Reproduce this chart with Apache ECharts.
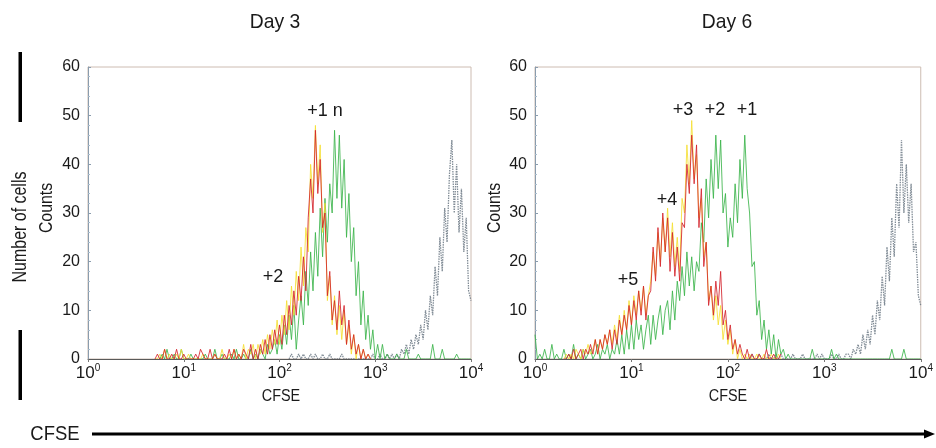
<!DOCTYPE html>
<html><head><meta charset="utf-8">
<script src="https://cdn.jsdelivr.net/npm/echarts@6/dist/echarts.min.js"></script>
<style>html,body{margin:0;padding:0;background:#fff}#c{width:936px;height:448px}</style>
</head><body><div id="c"></div>
<script>
const FONT = "'Liberation Sans',Arial,sans-serif";
// histogram bin width in decades (log10 units)
const STEP = 0.025;
const panelTitles = ['Day 3', 'Day 6'];
const yMin = 0, yMax = 60, yInterval = 10;
const xMin = 1, xMax = 10000;

// ---------- Day 3 ----------
const d3YellowStart = 0.7;
const d3YellowCounts = [
  0,0,1,0,2,0,1,0,0,1,0,2,0,0,1,0,0,0,0,0,1,0,0,0,0,1,0,0,2,0,0,1,
  0,2,0,1,0,3,0,2,1,3, 0,3,1,4,1,5,2,6,3,8, 3,9,5,12,6,15,9,18,12,23,
  15,27,22,40,33,48,36,44,26,32, 12,17,7,13,5,11,4,10,3,7, 1,5,0,3,0,2,0,1,0
];
const d3RedStart = 0.7;
const d3RedCounts = [
  0,1,0,0,2,0,0,1,0,2,0,0,1,0,0,0,0,1,0,2,1,0,0,2,0,1,0,0,0,1,0,2,
  0,2,0,1,0,2,1,0,3,0, 2,0,3,1,4,1,5,2,6,3, 7,3,9,5,11,7,14,9,17,12,
  21,14,29,37,30,47,34,41,27,30, 13,18,8,12,6,14,7,11,3,8, 2,5,1,3,0,2,0,1,0
];
const d3GreenStart = 0.75;
const d3GreenCounts = [
  0,1,0,2,0,0,1,0,0,2,0,0,0,1,0,0,0,0,0,1,0,0,0,2,0,0,1,0,0,0,1,0,2,0,
  0,1,0,0,2,0,1,0,2,1, 0,3,1,2,4,1,5,2,7,3, 9,4,11,2,8,13,7,18,11,22,
  14,26,17,31,21,33,24,36,30,47, 33,46,31,41,25,34,20,27,13,20, 7,14,4,9,2,6,0,3,0,3, 0,1,0,
  0,0,1,0,0,0,2,0,0,0,0,1,0,0,0,0,0,3,0,0,0,2,0,0,0,0,0,1,0,0,0,0,0,0
];
const d3GrayStart = 2.1;
const d3GrayCounts = [
  0,1,0,0,1,0,1,0,0,1, 0,1,0,0,1,0,0,1,0,0, 0,0,1,0,0,0,0,0,0,0, 0,0,0,0,0,1,0,0,1,0, 0,1,0,1,
  0,1,0,2,1,3,1,4,2,5, 3,7,4,10,6,13,9,19,13,25, 18,31,24,38,45,30,40,26,35,22, 29,14,12
];

// ---------- Day 6 ----------
const d6YellowStart = 0.3;
const d6YellowCounts = [
  0,1,0,1,0,2,1,0,2,1, 3,1,2,4,1,4,2,5,3,6, 3,7,4,9,5,10,6,12,7,13,
  9,14,10,15,9,13,16,22,17,26, 20,29,22,31,21,28,19,25,18,33, 30,44,36,49,37,42,29,33,21,24,
  12,15,8,13,7,11,4,8,3,6, 1,4,0,2,0,1,0,1,0,0, 1,0,0,1,0,0,1,0,0,1,0
];
const d6RedStart = 0.3;
const d6RedCounts = [
  0,0,1,0,2,0,1,2,0,2, 1,3,1,4,1,4,2,5,3,6, 2,6,3,8,5,9,6,11,7,12,
  8,14,9,15,8,13,14,23,16,27, 19,30,22,29,18,26,17,23,16,28, 27,40,34,46,36,44,27,35,19,24,
  11,15,9,16,11,18,7,10,4,7, 2,4,1,3,1,0,2,0,1,0, 0,1,0,0,2,0,0,1,0,0,1
];
const d6GreenStart = 0.0;
const d6GreenCounts = [
  5,0,1,0,2,0,0,3,0,1,0,0,2,0,1,0,3,0,1,0,2,0,1,2,0,1,3,0,2,1,3,0,2,1,4,1,5,1,6,2,
  7,2,8,4,7,2,6,9,3,9,4,8,11,5,10,12,6,14,8,16,12,19,13,22,15,21,14,20,18,28,24,37,29,41,33,46,35,45,30,34,
  23,29,25,36,28,41,33,46,35,30,19,20,9,12,4,8,2,6,1,5,0,4,1,2,0,1,0,
  0,0,0,0,0,0,0,0,2,0, 0,0,0,0,0,0,2,0,1,0, 0,0,0,0,0,0,0,0,0,0, 0,0,0,0,0,0,0,0,0,0, 0,2,0,0,0,0,2,0,0,0, 0,0,0,0
];
const d6GrayStart = 2.2;
const d6GrayCounts = [
  0,0,1,0,0,1,0,0,0,1, 0,0,1,0,1,0,0,0,0,1, 0,0,0,1,0,0,0,0,0,1, 0,1,0,0,0,1,0,0,1,0,
  0,1,1,0,2,1,3,1,5,2, 6,3,9,5,12,8,17,11,23,16, 29,21,36,27,45,30,40,28,36,22, 24,13,11
];

const COLORS = { gray: '#6b7884', green: '#3bb44a', yellow: '#f4df33', red: '#d4232b' };

function pts(start, counts) {
  return counts.map((c, i) => [Math.pow(10, start + i * STEP), c]);
}

const panels = [
  { gray: [d3GrayStart, d3GrayCounts], green: [d3GreenStart, d3GreenCounts], yellow: [d3YellowStart, d3YellowCounts], red: [d3RedStart, d3RedCounts] },
  { gray: [d6GrayStart, d6GrayCounts], green: [d6GreenStart, d6GreenCounts], yellow: [d6YellowStart, d6YellowCounts], red: [d6RedStart, d6RedCounts] }
];
const grids = [
  { left: 88, top: 67, width: 383, height: 292 },
  { left: 535, top: 67, width: 386, height: 292 }
];

const series = [];
panels.forEach((p, idx) => {
  ['gray', 'green', 'yellow', 'red'].forEach((k, j) => {
    series.push({
      type: 'line', xAxisIndex: idx, yAxisIndex: idx,
      data: pts(p[k][0], p[k][1]),
      symbol: 'none', showSymbol: false, animation: false,
      lineStyle: k === 'gray'
        ? { color: COLORS[k], width: 1.3, opacity: 0.85, type: [1.5, 1] }
        : { color: COLORS[k], width: 1, opacity: 0.85, type: 'solid' },
      z: 2 + j
    });
  });
});

const txt = (text, x, y, size, extra) => Object.assign({
  type: 'text', x, y, silent: true,
  style: { text, fontSize: size, fontFamily: FONT, fill: '#1a1a1a', textAlign: 'center', textVerticalAlign: 'middle' }
}, extra || {});

const graphic = [
  txt(panelTitles[0], 275, 22, 21, { scaleX: 0.92 }),
  txt(panelTitles[1], 727, 22, 21, { scaleX: 0.92 }),
  txt('Number of cells', 20, 227, 21, { rotation: Math.PI / 2, scaleX: 0.76 }),
  txt('Counts', 47, 208, 18, { rotation: Math.PI / 2, scaleX: 0.88 }),
  txt('Counts', 495, 208, 18, { rotation: Math.PI / 2, scaleX: 0.88 }),
  txt('CFSE', 281, 397, 16, { scaleX: 0.9 }),
  txt('CFSE', 728, 397, 16, { scaleX: 0.9 }),
  txt('+1 n', 325, 111, 18),
  txt('+2', 273, 277, 18),
  txt('+3', 683, 110, 18),
  txt('+2', 715, 110, 18),
  txt('+1', 747, 110, 18),
  txt('+4', 667, 200, 18),
  txt('+5', 628, 280, 18),
  txt('CFSE', 55, 434, 21, { scaleX: 0.88 }),
  { type: 'rect', shape: { x: 18.5, y: 52, width: 3.5, height: 70 }, style: { fill: '#000' } },
  { type: 'rect', shape: { x: 18.5, y: 330, width: 3.5, height: 70 }, style: { fill: '#000' } },
  { type: 'line', shape: { x1: 92, y1: 434, x2: 926, y2: 434 }, style: { stroke: '#000', lineWidth: 3 } },
  { type: 'polygon', shape: { points: [[924, 429.5], [935, 434], [924, 438.5]] }, style: { fill: '#000' } }
];

const xAxes = grids.map((g, i) => ({
  type: 'log', logBase: 10, min: xMin, max: xMax, gridIndex: i, z: 10,
  axisLine: { show: true, lineStyle: { color: '#5a5a5a', width: 1 } },
  axisTick: { show: true, length: 3, lineStyle: { color: '#777' } },
  splitLine: { show: false },
  axisLabel: {
    margin: 4, color: '#1a1a1a', fontFamily: FONT,
    formatter: v => '{b|10}{s|' + Math.round(Math.log10(v)) + '}',
    rich: {
      b: { fontSize: 17, fontFamily: FONT, color: '#1a1a1a', lineHeight: 20 },
      s: { fontSize: 10, fontFamily: FONT, color: '#1a1a1a', verticalAlign: 'top', lineHeight: 12 }
    }
  }
}));
const yAxes = grids.map((g, i) => ({
  type: 'value', min: yMin, max: yMax, interval: yInterval, gridIndex: i,
  axisLine: { show: true, lineStyle: { color: '#8a9cad', width: 1 } },
  axisTick: { show: true, inside: true, length: 3, lineStyle: { color: '#8a9cad' } },
  minorTick: { show: true, splitNumber: 5, length: 2, lineStyle: { color: '#a8bccd' } },
  splitLine: { show: false },
  axisLabel: { fontSize: 16, color: '#1a1a1a', fontFamily: FONT, margin: 8 }
}));

const chart = echarts.init(document.getElementById('c'), null, { renderer: 'canvas' });
chart.setOption({
  backgroundColor: '#fff',
  animation: false,
  grid: grids.map(g => Object.assign({ show: true, borderColor: '#cdbcb2', borderWidth: 1, containLabel: false }, g)),
  xAxis: xAxes,
  yAxis: yAxes,
  series,
  graphic
});
</script>
</body></html>
